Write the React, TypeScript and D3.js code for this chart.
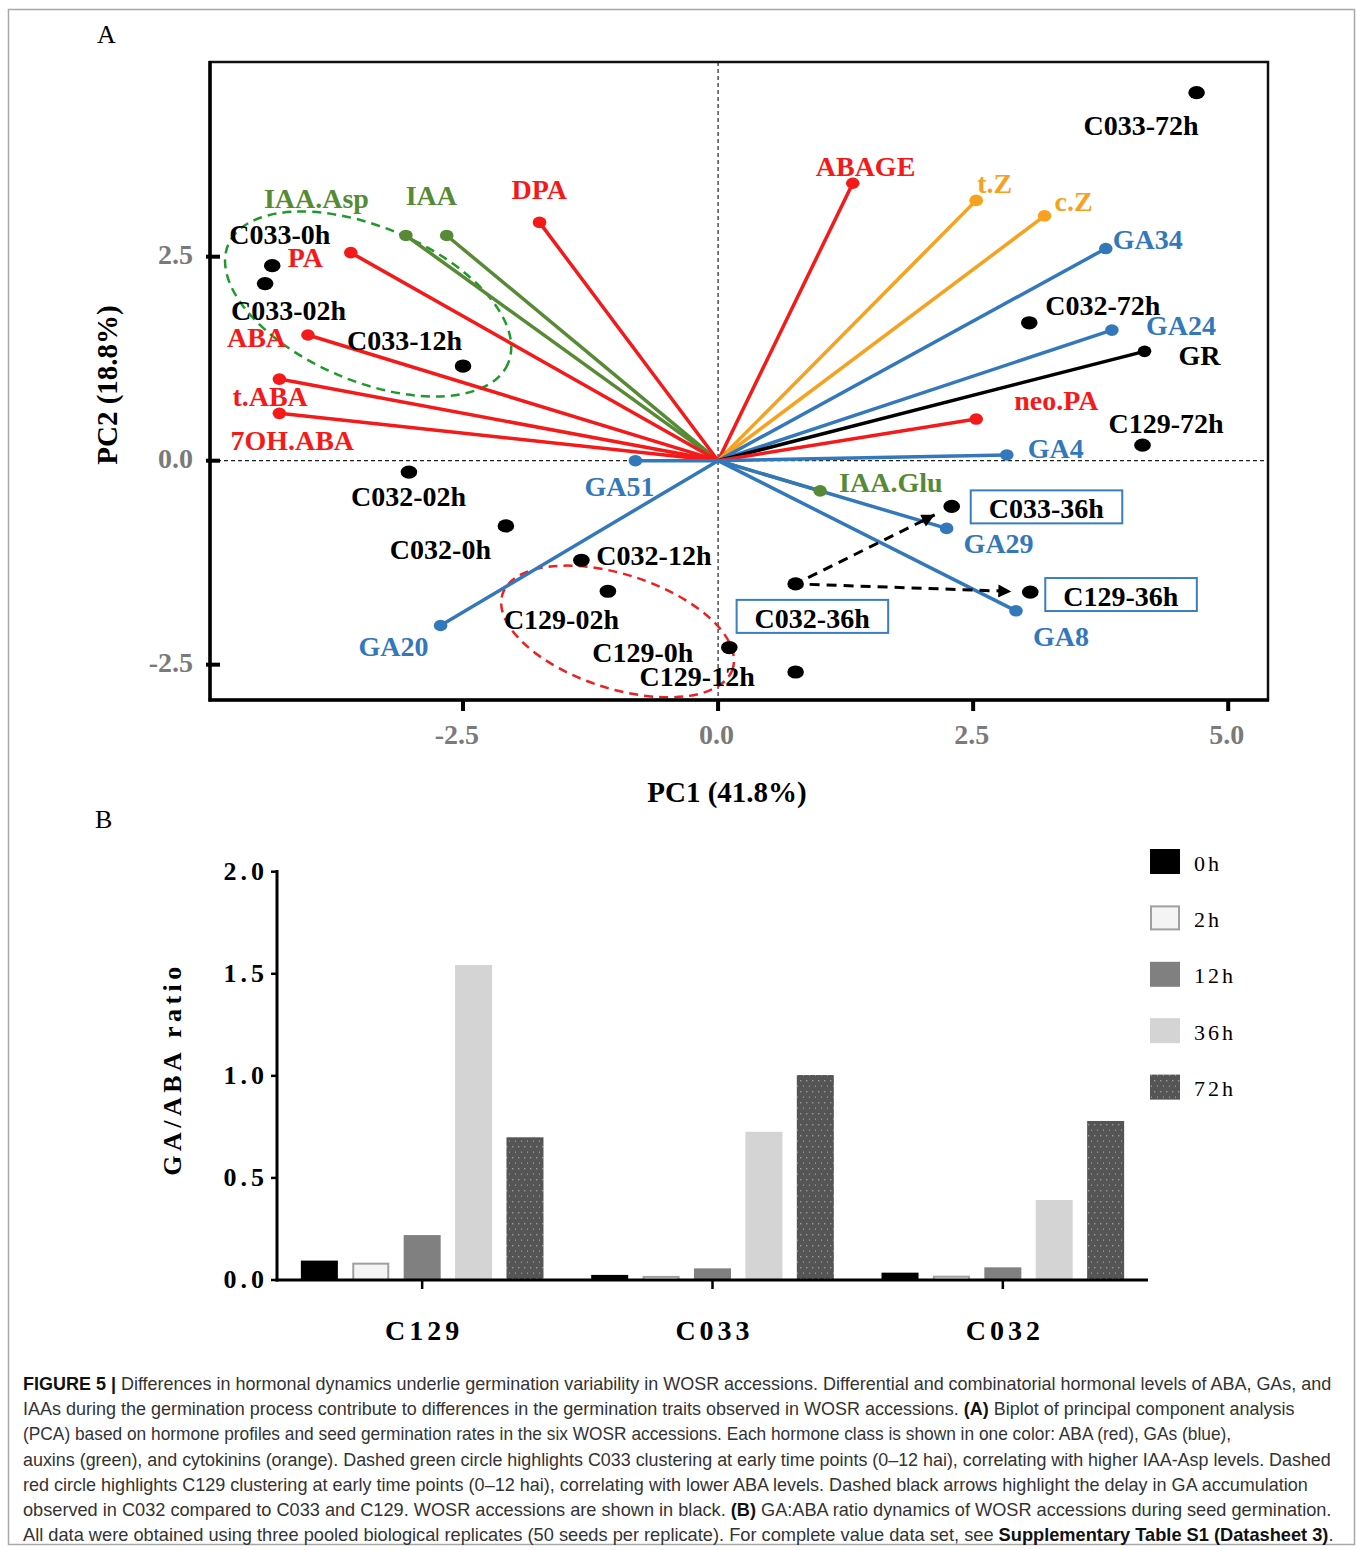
import React, { useEffect, useRef } from "react";
import * as d3 from "d3";

// ---------- panel A : PCA biplot ----------
const loadingNames = ["IAA.Asp", "IAA", "DPA", "PA", "ABA", "t.ABA", "7OH.ABA", "GA51", "GA20", "ABAGE", "t.Z", "c.Z", "GA34", "GA24", "GR", "neo.PA", "GA4", "IAA.Glu", "GA29", "GA8"];
const loadingPC1 = [-3.06, -2.66, -1.75, -3.6, -4.02, -4.3, -4.3, -0.81, -2.72, 1.32, 2.53, 3.2, 3.8, 3.86, 4.18, 2.53, 2.83, 1.0, 2.24, 2.92];
const loadingPC2 = [2.76, 2.76, 2.92, 2.55, 1.54, 1.0, 0.58, 0.0, -2.02, 3.4, 3.19, 3.0, 2.6, 1.6, 1.34, 0.51, 0.07, -0.37, -0.83, -1.84];
const loadingClass = ["auxin", "auxin", "ABA", "ABA", "ABA", "ABA", "ABA", "GA", "GA", "ABA", "cytokinin", "cytokinin", "GA", "GA", "trait", "ABA", "GA", "auxin", "GA", "GA"];

const sampleNames = ["C033-0h", "C033-02h", "C033-12h", "C033-36h", "C033-72h", "C032-0h", "C032-02h", "C032-12h", "C032-36h", "C032-72h", "C129-0h", "C129-02h", "C129-12h", "C129-36h", "C129-72h"];
const samplePC1 = [-4.37, -4.44, -2.5, 2.29, 4.69, -2.08, -3.03, -1.34, 0.76, 3.05, 0.11, -1.08, 0.76, 3.06, 4.16];
const samplePC2 = [2.39, 2.17, 1.16, -0.56, 4.51, -0.8, -0.14, -1.22, -1.51, 1.69, -2.29, -1.6, -2.59, -1.61, 0.19];

const boxedSamples = ["C033-36h", "C129-36h", "C032-36h"];
const arrowPairs = [["C032-36h", "C033-36h"], ["C032-36h", "C129-36h"]];
// highlighted clusters (centre in PC units)
const clusterPC1 = [-3.43, -0.985];
const clusterPC2 = [1.92, -2.093];

const pc1Ticks = [-2.5, 0, 2.5, 5];
const pc2Ticks = [-2.5, 0, 2.5];

// ---------- panel B : GA/ABA ratio ----------
const accessions = ["C129", "C033", "C032"];
const timePoints = ["0h", "2h", "12h", "36h", "72h"];
const ratio0h = [0.095, 0.025, 0.036];
const ratio2h = [0.085, 0.02, 0.021];
const ratio12h = [0.22, 0.057, 0.062];
const ratio36h = [1.543, 0.726, 0.392];
const ratio72h = [0.699, 1.004, 0.779];
const ratioTicks = [0, 0.5, 1, 1.5, 2];

const captionLines: [string, boolean][][] = [
  [["FIGURE 5 | ", true], ["Differences in hormonal dynamics underlie germination variability in WOSR accessions. Differential and combinatorial hormonal levels of ABA, GAs, and", false]],
  [["IAAs during the germination process contribute to differences in the germination traits observed in WOSR accessions. ", false], ["(A)", true], [" Biplot of principal component analysis", false]],
  [["(PCA) based on hormone profiles and seed germination rates in the six WOSR accessions. Each hormone class is shown in one color: ABA (red), GAs (blue),", false]],
  [["auxins (green), and cytokinins (orange). Dashed green circle highlights C033 clustering at early time points (0\u201312 hai), correlating with higher IAA-Asp levels. Dashed", false]],
  [["red circle highlights C129 clustering at early time points (0\u201312 hai), correlating with lower ABA levels. Dashed black arrows highlight the delay in GA accumulation", false]],
  [["observed in C032 compared to C033 and C129. WOSR accessions are shown in black. ", false], ["(B)", true], [" GA:ABA ratio dynamics of WOSR accessions during seed germination.", false]],
  [["All data were obtained using three pooled biological replicates (50 seeds per replicate). For complete value data set, see ", false], ["Supplementary Table S1 (Datasheet 3)", true], [".", false]],
];

// layout / style
const W = 1357, H = 1550;
const SERIF = "'Liberation Serif', 'Times New Roman', serif";
const classColor: Record<string, string> = { ABA: "#f51a1a", GA: "#3478bc", auxin: "#578a34", cytokinin: "#f7a11e", trait: "#000" };
const labelOffset: Record<string, [number, number]> = {
  "IAA.Asp": [-142, -27], IAA: [-41, -30], DPA: [-28, -23], PA: [-63, 14], ABA: [-81, 12], "t.ABA": [-47, 27], "7OH.ABA": [-49, 37],
  GA51: [-51, 35], GA20: [-82, 30], ABAGE: [-37, -7], "t.Z": [1, -7], "c.Z": [10, -5], GA34: [7, 0], GA24: [34, 5], GR: [34, 14],
  "neo.PA": [38, -9], GA4: [21, 3], "IAA.Glu": [19, 1], GA29: [17, 25], GA8: [17, 35],
  "C033-72h": [-113, 42], "C032-72h": [16, -8], "C129-72h": [-34, -12], "C033-0h": [-43, -22], "C033-02h": [-34, 36], "C033-12h": [-116, -16],
  "C032-02h": [-58, 34], "C032-0h": [-116, 33], "C032-12h": [15, 5], "C129-02h": [-104, 38], "C129-0h": [-137, 14], "C129-12h": [-156, 14],
  "C032-36h": [-41, 44], "C033-36h": [37, 12], "C129-36h": [33, 14],
};
const clusterShape = [
  { color: "#1f9a2a", rx: 152, ry: 77, rot: 23 },
  { color: "#ee2020", rx: 121, ry: 57, rot: 18 },
];
const captionWidths = [1309, 1272, 1209, 1309, 1286, 1309, 1311];

// d3 uses the unicode minus; the figure uses a plain hyphen
const tickFmt = (v: number) => d3.format(".1f")(v).replace("\u2212", "-");

function drawBiplot(svg: any) {
  const x = d3.scaleLinear().domain([-4.98, 5.39]).range([210, 1268]);
  const y = d3.scaleLinear().domain([-2.933, 4.886]).range([700, 62]);
  const g = svg.append("g");

  // zero lines
  g.append("line").attr("x1", x(0)).attr("x2", x(0)).attr("y1", 62).attr("y2", 700)
    .attr("stroke", "#222").attr("stroke-width", 1.2).attr("stroke-dasharray", "4,3");
  g.append("line").attr("x1", 210).attr("x2", 1268).attr("y1", y(0)).attr("y2", y(0))
    .attr("stroke", "#222").attr("stroke-width", 1.2).attr("stroke-dasharray", "4,3");

  // dashed cluster ellipses
  clusterPC1.forEach((cx, i) => {
    const s = clusterShape[i];
    g.append("ellipse")
      .attr("transform", `translate(${x(cx)},${y(clusterPC2[i])}) rotate(${s.rot})`)
      .attr("rx", s.rx).attr("ry", s.ry)
      .attr("fill", "none").attr("stroke", s.color).attr("stroke-width", 2.5).attr("stroke-dasharray", "9,6");
  });

  // loading vectors
  loadingNames.forEach((name, i) => {
    const c = classColor[loadingClass[i]];
    g.append("line").attr("x1", x(0)).attr("y1", y(0)).attr("x2", x(loadingPC1[i])).attr("y2", y(loadingPC2[i]))
      .attr("stroke", c).attr("stroke-width", 3.5);
  });
  loadingNames.forEach((name, i) => {
    g.append("ellipse").attr("cx", x(loadingPC1[i])).attr("cy", y(loadingPC2[i])).attr("rx", 6.8).attr("ry", 5.8)
      .attr("fill", classColor[loadingClass[i]]);
  });

  // sample points
  sampleNames.forEach((name, i) => {
    g.append("ellipse").attr("cx", x(samplePC1[i])).attr("cy", y(samplePC2[i])).attr("rx", 8.3).attr("ry", 6.6).attr("fill", "#000");
  });

  // arrows
  const defs = svg.append("defs");
  defs.append("marker").attr("id", "arrowHead").attr("viewBox", "0 0 10 10").attr("refX", 10).attr("refY", 5)
    .attr("markerUnits", "userSpaceOnUse").attr("markerWidth", 15).attr("markerHeight", 13).attr("orient", "auto")
    .append("path").attr("d", "M0,0L10,5L0,10Z").attr("fill", "#000");
  arrowPairs.forEach(([from, to]) => {
    const a = sampleNames.indexOf(from), b = sampleNames.indexOf(to);
    const x0 = x(samplePC1[a]), y0 = y(samplePC2[a]), x1 = x(samplePC1[b]), y1 = y(samplePC2[b]);
    const len = Math.hypot(x1 - x0, y1 - y0), ux = (x1 - x0) / len, uy = (y1 - y0) / len;
    g.append("line").attr("x1", x0 + ux * 14).attr("y1", y0 + uy * 14).attr("x2", x1 - ux * 19).attr("y2", y1 - uy * 19)
      .attr("stroke", "#000").attr("stroke-width", 3).attr("stroke-dasharray", "10,7").attr("marker-end", "url(#arrowHead)");
  });

  // labels
  const addLabel = (name: string, px: number, py: number, color: string) => {
    const [dx, dy] = labelOffset[name];
    const t = g.append("text").attr("x", px + dx).attr("y", py + dy).text(name)
      .attr("font-family", SERIF).attr("font-weight", "bold").attr("font-size", 28).attr("fill", color);
    if (boxedSamples.includes(name)) {
      const bb = (t.node() as SVGTextElement).getBBox();
      g.insert("rect", "text").attr("x", bb.x - 18).attr("y", py + dy - 28).attr("width", bb.width + 36).attr("height", 33)
        .attr("fill", "#fff").attr("stroke", "#3a7dc0").attr("stroke-width", 2);
    }
  };
  loadingNames.forEach((name, i) => addLabel(name, x(loadingPC1[i]), y(loadingPC2[i]), classColor[loadingClass[i]]));
  sampleNames.forEach((name, i) => addLabel(name, x(samplePC1[i]), y(samplePC2[i]), "#000"));

  // frame and axes
  g.append("rect").attr("x", 210).attr("y", 62).attr("width", 1058).attr("height", 638)
    .attr("fill", "none").attr("stroke", "#111").attr("stroke-width", 2.5);
  g.append("line").attr("x1", 210).attr("x2", 210).attr("y1", 61).attr("y2", 701.5).attr("stroke", "#000").attr("stroke-width", 3.5);
  g.append("line").attr("x1", 208.5).attr("x2", 1269).attr("y1", 700).attr("y2", 700).attr("stroke", "#000").attr("stroke-width", 3.5);

  pc1Ticks.forEach((t) => {
    g.append("line").attr("x1", x(t)).attr("x2", x(t)).attr("y1", 700).attr("y2", 711).attr("stroke", "#000").attr("stroke-width", 4);
    g.append("text").attr("x", x(t) + 16).attr("y", 744).attr("text-anchor", "end").text(tickFmt(t))
      .attr("font-family", SERIF).attr("font-weight", "bold").attr("font-size", 28).attr("fill", "#7a7a7a");
  });
  pc2Ticks.forEach((t) => {
    g.append("line").attr("x1", 206).attr("x2", 220).attr("y1", y(t)).attr("y2", y(t)).attr("stroke", "#000").attr("stroke-width", 4);
    g.append("text").attr("x", 193).attr("y", y(t) + 7).attr("text-anchor", "end").text(tickFmt(t))
      .attr("font-family", SERIF).attr("font-weight", "bold").attr("font-size", 28).attr("fill", "#7a7a7a");
  });

  g.append("text").attr("x", 727).attr("y", 802).attr("text-anchor", "middle").text("PC1 (41.8%)")
    .attr("font-family", SERIF).attr("font-weight", "bold").attr("font-size", 29);
  g.append("text").attr("transform", "translate(117,385) rotate(-90)").attr("text-anchor", "middle").text("PC2 (18.8%)")
    .attr("font-family", SERIF).attr("font-weight", "bold").attr("font-size", 29);
  g.append("text").attr("x", 97).attr("y", 43).text("A").attr("font-family", SERIF).attr("font-size", 26);
}

function drawBars(svg: any) {
  const x = d3.scaleBand().domain(accessions).range([277, 1148]);
  const xi = d3.scaleBand().domain(timePoints).range([0, x.bandwidth()]).paddingInner(0.28).paddingOuter(0.464);
  const y = d3.scaleLinear().domain([0, 2]).range([1280, 871.7]);
  const series = [ratio0h, ratio2h, ratio12h, ratio36h, ratio72h];
  const fills = ["#000", "#f4f4f4", "#808080", "#d4d4d4", "url(#dots)"];

  const pat = svg.append("defs").append("pattern").attr("id", "dots").attr("patternUnits", "userSpaceOnUse")
    .attr("width", 6).attr("height", 11);
  pat.append("rect").attr("width", 6).attr("height", 11).attr("fill", "#555");
  pat.append("rect").attr("x", 2).attr("y", 2).attr("width", 1.4).attr("height", 1.4).attr("fill", "#9a9a9a");
  pat.append("rect").attr("x", 5).attr("y", 7.5).attr("width", 1.4).attr("height", 1.4).attr("fill", "#9a9a9a");

  const g = svg.append("g");
  series.forEach((vals, s) => {
    vals.forEach((v, i) => {
      const bx = (x(accessions[i]) as number) + (xi(timePoints[s]) as number);
      const bw = xi.bandwidth();
      if (s === 1) {
        g.append("rect").attr("x", bx + 1).attr("y", y(v) + 1).attr("width", bw - 2).attr("height", 1280 - y(v) - 1)
          .attr("fill", fills[s]).attr("stroke", "#a0a0a0").attr("stroke-width", 2);
      } else {
        g.append("rect").attr("x", bx).attr("y", y(v)).attr("width", bw).attr("height", 1280 - y(v)).attr("fill", fills[s]);
      }
    });
  });

  // axes
  g.append("line").attr("x1", 277).attr("x2", 277).attr("y1", 870).attr("y2", 1281.5).attr("stroke", "#000").attr("stroke-width", 3);
  g.append("line").attr("x1", 275.5).attr("x2", 1148).attr("y1", 1280).attr("y2", 1280).attr("stroke", "#000").attr("stroke-width", 3);
  ratioTicks.forEach((t) => {
    g.append("line").attr("x1", 271).attr("x2", 277).attr("y1", y(t)).attr("y2", y(t)).attr("stroke", "#000").attr("stroke-width", 2.5);
    g.append("text").attr("x", 268).attr("y", y(t) + 8).attr("text-anchor", "end").text(tickFmt(t))
      .attr("font-family", SERIF).attr("font-weight", "bold").attr("font-size", 26).attr("letter-spacing", 4);
  });
  accessions.forEach((a) => {
    const cx = (x(a) as number) + x.bandwidth() / 2;
    g.append("line").attr("x1", cx).attr("x2", cx).attr("y1", 1280).attr("y2", 1289).attr("stroke", "#000").attr("stroke-width", 2.5);
    g.append("text").attr("x", cx + 2).attr("y", 1340).attr("text-anchor", "middle").text(a)
      .attr("font-family", SERIF).attr("font-weight", "bold").attr("font-size", 28).attr("letter-spacing", 4);
  });
  g.append("text").attr("transform", "translate(181,1069) rotate(-90)").attr("text-anchor", "middle").text("GA/ABA ratio")
    .attr("font-family", SERIF).attr("font-weight", "bold").attr("font-size", 26).attr("letter-spacing", 4.5);

  // legend
  timePoints.forEach((t, i) => {
    const cy = 861.5 + i * 56.4;
    const r = g.append("rect").attr("x", 1150).attr("y", cy - 12.5).attr("width", 30).attr("height", 25).attr("fill", fills[i]);
    if (i === 1) r.attr("x", 1151).attr("y", cy - 11.5).attr("width", 28).attr("height", 23).attr("stroke", "#a0a0a0").attr("stroke-width", 2);
    g.append("text").attr("x", 1194).attr("y", cy + 9).text(t)
      .attr("font-family", SERIF).attr("font-size", 22).attr("letter-spacing", 3);
  });
  g.append("text").attr("x", 95).attr("y", 828).text("B").attr("font-family", SERIF).attr("font-size", 26);
}

function drawCaption(svg: any) {
  const g = svg.append("g");
  captionLines.forEach((parts, i) => {
    const t = g.append("text").attr("font-family", "'Liberation Sans Narrow', 'Liberation Sans', Arial, sans-serif")
      .attr("font-size", 18).attr("fill", "#222");
    parts.forEach(([s, b]) => {
      t.append("tspan").text(s).attr("font-weight", b ? "bold" : "normal").attr("fill", b ? "#111" : "#333");
    });
    const natural = (t.node() as SVGTextElement).getComputedTextLength();
    t.attr("transform", `translate(23,${1390 + i * 25.2}) scale(${captionWidths[i] / natural},1)`);
  });
}

export default function App() {
  const ref = useRef<SVGSVGElement>(null);
  useEffect(() => {
    const svg = d3.select(ref.current);
    svg.selectAll("*").remove();
    svg.append("rect").attr("x", 8.5).attr("y", 9.5).attr("width", 1346).attr("height", 1535)
      .attr("fill", "#fff").attr("stroke", "#a8a8a8").attr("stroke-width", 1.5);
    drawBiplot(svg);
    drawBars(svg);
    drawCaption(svg);
  }, []);
  return (
    <svg ref={ref} width={W} height={H} style={{ position: "absolute", left: 0, top: 0, background: "#fff" }} />
  );
}
